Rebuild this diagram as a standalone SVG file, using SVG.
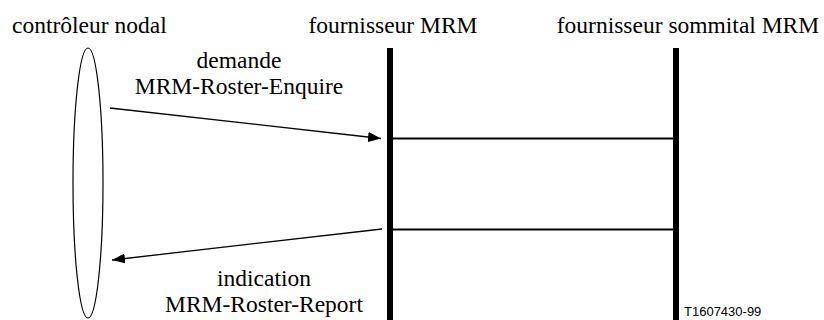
<svg xmlns="http://www.w3.org/2000/svg" width="824" height="320" viewBox="0 0 824 320">
  <style>
    .txt { font-family: 'Liberation Serif', 'Times New Roman', serif; font-size: 23.5px; fill: #000; }
    .mid { text-anchor: middle; }
    .ref { font-family: 'Liberation Sans', Arial, sans-serif; font-size: 13px; fill: #000; }
    .life { stroke: #000; stroke-width: 6; }
    .rel { stroke: #000; stroke-width: 2; }
    .msg { stroke: #000; stroke-width: 1.3; fill: none; marker-end: url(#head); }
  </style>
  <defs>
    <marker id="head" viewBox="0 0 13 10" refX="13" refY="5" markerWidth="13" markerHeight="10" markerUnits="userSpaceOnUse" orient="auto">
      <path d="M0,0 L13,5 L0,10 Z" fill="#000"/>
    </marker>
  </defs>

  <g id="controleur">
    <text class="txt" x="12" y="33">contrôleur nodal</text>
    <ellipse cx="88" cy="183" rx="15" ry="135" fill="none" stroke="#000" stroke-width="1.2"/>
  </g>

  <g id="fournisseur">
    <text class="txt mid" x="393" y="33">fournisseur MRM</text>
    <line class="life" x1="390" y1="48" x2="390" y2="320"/>
  </g>

  <g id="sommital">
    <text class="txt mid" x="688" y="33">fournisseur sommital MRM</text>
    <line class="life" x1="676" y1="48" x2="676" y2="320"/>
  </g>

  <g id="connectors">
    <line class="rel" x1="393" y1="138.5" x2="673" y2="138.5"/>
    <line class="rel" x1="393" y1="229.5" x2="673" y2="229.5"/>
    <line class="msg" x1="110" y1="108" x2="381" y2="138.5"/>
    <line class="msg" x1="382" y1="229" x2="112" y2="260"/>
  </g>

  <g id="labels">
    <text class="txt mid" x="239" y="68">demande</text>
    <text class="txt mid" x="239" y="94">MRM-Roster-Enquire</text>
    <text class="txt mid" x="264" y="286">indication</text>
    <text class="txt mid" x="264" y="312">MRM-Roster-Report</text>
    <text class="ref" x="684" y="316">T1607430-99</text>
  </g>
</svg>
